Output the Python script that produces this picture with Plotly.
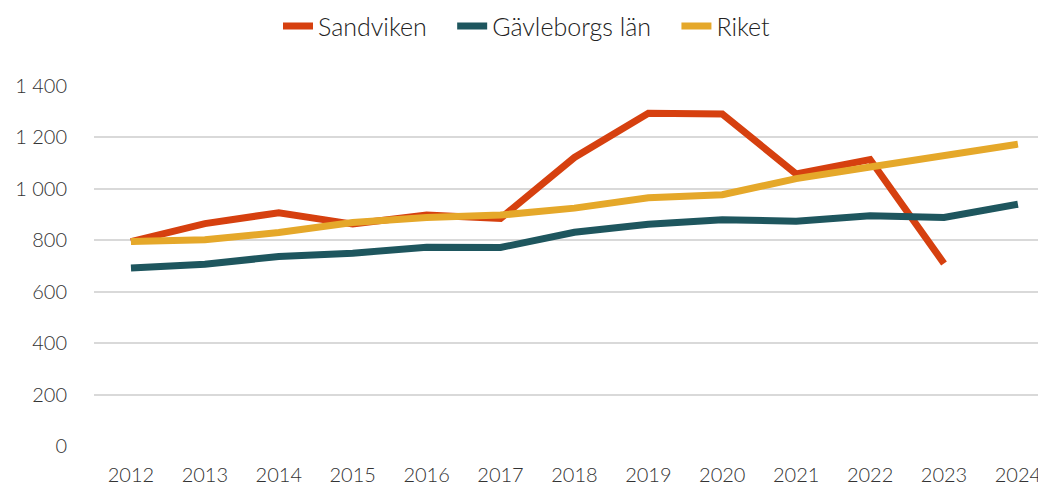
import plotly.graph_objects as go

years = ["2012", "2013", "2014", "2015", "2016", "2017", "2018", "2019", "2020", "2021", "2022", "2023", "2024"]
sandviken = [795, 865, 907, 863, 898, 885, 1122, 1294, 1291, 1058, 1114, 710, None]
gavleborg = [692, 707, 737, 750, 773, 772, 831, 862, 880, 874, 895, 889, 940]
riket = [795, 802, 830, 869, 889, 898, 925, 965, 977, 1040, 1085, 1128, 1174]

y_ticks = [0, 200, 400, 600, 800, 1000, 1200, 1400]
y_labels = ["0", "200", "400", "600", "800", "1 000", "1 200", "1 400"]

series = [
    ("Sandviken", sandviken, "#D6400F", "\u00a0" * 3),
    ("Gävleborgs län", gavleborg, "#1E565E", "\u00a0" * 3),
    ("Riket", riket, "#E5A82A", ""),
]

xs = list(range(len(years)))
fig = go.Figure()
for name, vals, color, pad in series:
    fig.add_trace(go.Scatter(
        x=xs, y=vals, name=name + pad, mode="lines",
        line=dict(color=color, width=7),
        connectgaps=False,
    ))

font_family = "Lato"
# page body has an 8px default margin, so the figure is offset by (8, 8)
fig.update_layout(
    width=1038, height=478,
    margin=dict(l=86, r=0, t=78, b=40, autoexpand=False),
    paper_bgcolor="white", plot_bgcolor="white",
    font=dict(family=font_family, size=20, color="#333333", weight=300),
    legend=dict(
        orientation="h", x=0.5, xanchor="center", xref="container",
        y=0.962, yanchor="middle", yref="container",
        font=dict(size=25, color="#222222", family=font_family, weight=300),
        traceorder="normal",
    ),
    xaxis=dict(
        range=[-0.5, 12.38],
        tickvals=xs, ticktext=years,
        showgrid=False, zeroline=False, showline=False,
        ticks="outside", ticklen=11, tickcolor="rgba(0,0,0,0)", automargin=False,
        tickfont=dict(size=20),
    ),
    yaxis=dict(
        range=[0, 1400],
        tickvals=y_ticks, ticktext=y_labels,
        showgrid=True, gridcolor="#D9D9D9", gridwidth=1.5,
        zeroline=False, showline=False, automargin=False,
        ticks="outside", ticklen=22, tickcolor="rgba(0,0,0,0)",
        tickfont=dict(size=20),
    ),
)

fig.write_html("out.html")
